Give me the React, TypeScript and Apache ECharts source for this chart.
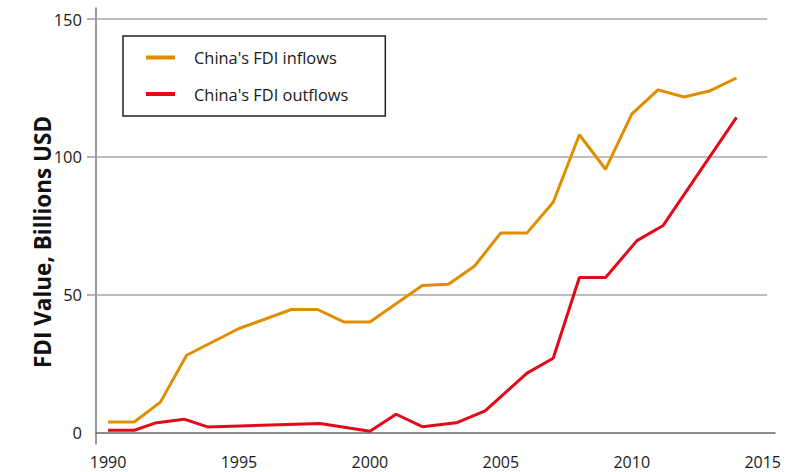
import React, { useEffect, useRef } from "react";
import * as echarts from "echarts";

// Data (billions USD)
const inflowYears = [1990, 1991, 1992, 1993, 1995, 1997, 1998, 1999, 2000, 2002, 2003, 2004, 2005, 2006, 2007, 2008, 2009, 2010, 2011, 2012, 2013, 2014];
const inflowValues = [3.8, 3.8, 11.0, 28.0, 37.7, 44.6, 44.6, 40.1, 40.1, 53.3, 53.8, 60.4, 72.4, 72.4, 83.5, 108.0, 95.5, 115.5, 124.3, 121.7, 124.0, 128.6];

const outflowYears = [1990, 1991, 1991.8, 1992.9, 1993.8, 1998.1, 2000, 2001, 2002, 2003.3, 2004.4, 2006, 2007, 2008, 2009, 2010.2, 2011.2, 2014];
const outflowValues = [0.8, 0.8, 3.4, 4.8, 2.0, 3.2, 0.4, 6.6, 2.1, 3.5, 7.8, 21.5, 26.9, 56.2, 56.2, 69.6, 75.1, 114.3];

const xTickLabels = [1990, 1995, 2000, 2005, 2010, 2015];
const yTickLabels = [0, 50, 100, 150];
const gridValues = [50, 100, 150];

const seriesNames = ["China's FDI inflows", "China's FDI outflows"];
const yAxisTitle = "FDI Value, Billions USD";

const X_MIN = 1989.54;
const X_MAX = 2015.47;
const GRID_END = 2015.17;
const FONT = "'Open Sans', 'Noto Sans', sans-serif";

export default function App() {
  const ref = useRef<HTMLDivElement>(null);

  useEffect(() => {
    if (!ref.current) return;
    const chart = echarts.init(ref.current, null, { renderer: "svg" });
    const inflow = inflowYears.map((y, i) => [y, inflowValues[i]]);
    const outflow = outflowYears.map((y, i) => [y, outflowValues[i]]);

    chart.setOption({
      animation: false,
      backgroundColor: "#ffffff",
      textStyle: { fontFamily: FONT },
      grid: { left: 96, right: 12, top: 8, bottom: 28, containLabel: false },
      legend: {
        orient: "vertical",
        left: 123,
        top: 36,
        data: seriesNames,
        icon: "rect",
        itemWidth: 29,
        itemHeight: 4,
        itemGap: 20.5,
        borderColor: "#222222",
        borderWidth: 1.5,
        padding: [13.5, 37, 14, 23],
        textStyle: { fontFamily: FONT, fontSize: 16.4, color: "#1a1a1a", padding: [0, 0, 0, 14] },
      },
      xAxis: {
        type: "value",
        min: X_MIN,
        max: X_MAX,
        splitLine: { show: false },
        axisTick: { show: false },
        axisLine: { show: true, lineStyle: { color: "#666666", width: 1.5 } },
        axisLabel: {
          customValues: xTickLabels,
          formatter: (v: number) => String(Math.round(v)),
          fontFamily: FONT,
          fontSize: 16,
          lineHeight: 17,
          color: "#1a1a1a",
          margin: 9,
        },
      },
      yAxis: {
        type: "value",
        min: -4.2,
        max: 154,
        splitLine: { show: false },
        axisLine: { show: true, lineStyle: { color: "#777777", width: 1.5 } },
        axisTick: {
          show: true,
          customValues: gridValues,
          length: 9,
          lineStyle: { color: "#999999", width: 1.5 },
        },
        axisLabel: {
          customValues: yTickLabels,
          formatter: (v: number) => String(Math.round(v)),
          fontFamily: FONT,
          fontSize: 16.5,
          color: "#1a1a1a",
          margin: 14,
        },
      },
      graphic: [
        {
          type: "text",
          x: 42,
          y: 242,
          rotation: Math.PI / 2,
          style: {
            text: yAxisTitle,
            fontFamily: FONT,
            fontSize: 22.5,
            fontWeight: "bold",
            fill: "#111111",
            textAlign: "center",
            textVerticalAlign: "middle",
          },
        },
      ],
      series: [
        {
          name: seriesNames[0],
          type: "line",
          data: inflow,
          symbol: "none",
          z: 3,
          color: "#E08E00",
          lineStyle: { color: "#E08E00", width: 3 },
          markLine: {
            silent: true,
            z: 1,
            symbol: "none",
            label: { show: false },
            lineStyle: { color: "#A8A8A8", width: 1.5, type: "solid" },
            data: gridValues.map((v) => [{ coord: [X_MIN, v] }, { coord: [GRID_END, v] }]),
          },
        },
        {
          name: seriesNames[1],
          type: "line",
          data: outflow,
          symbol: "none",
          z: 3,
          color: "#E30A17",
          lineStyle: { color: "#E30A17", width: 3 },
        },
      ],
    });
    return () => chart.dispose();
  }, []);

  return (
    <div
      ref={ref}
      style={{ position: "fixed", left: 0, top: 0, width: 787, height: 472 }}
    />
  );
}
